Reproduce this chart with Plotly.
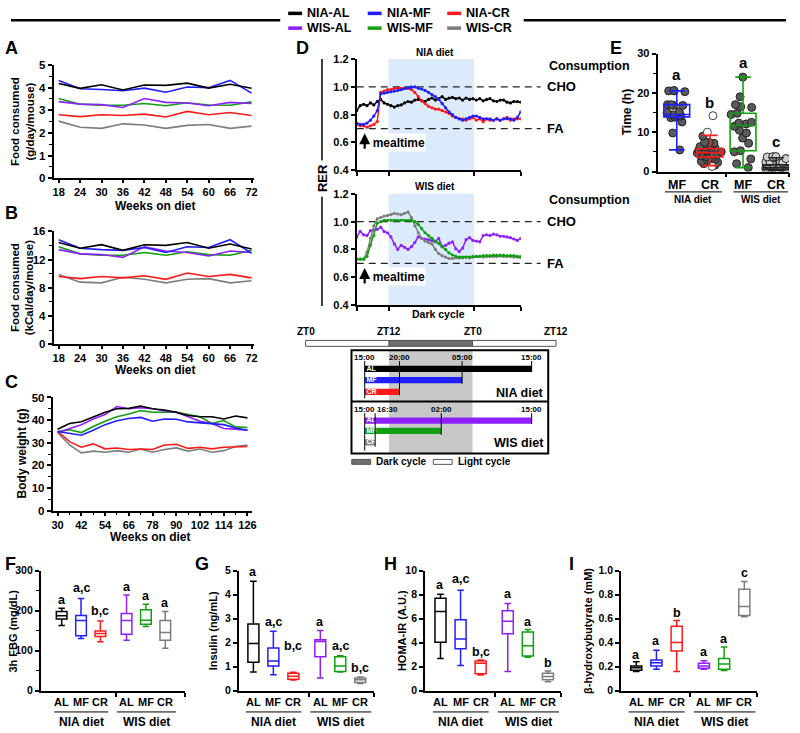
import plotly.graph_objects as go

W, H = 800, 733
FONT = "Liberation Sans"

# ---------------- colours ----------------
COL_NIA_AL = "#000000"
COL_NIA_MF = "#1f1fff"
COL_NIA_CR = "#ff1a1a"
COL_WIS_AL = "#8f1fff"
COL_WIS_MF = "#12a012"
COL_WIS_CR = "#7d7d7d"
GROUP_NAMES = ["NIA-AL", "NIA-MF", "NIA-CR", "WIS-AL", "WIS-MF", "WIS-CR"]
GROUP_COLORS = [COL_NIA_AL, COL_NIA_MF, COL_NIA_CR, COL_WIS_AL, COL_WIS_MF, COL_WIS_CR]

# ---------------- Panel A : food (g/day/mouse) ----------------
WEEKS_FOOD = [18, 24, 30, 36, 42, 48, 54, 60, 66, 72]
FOOD_G_NIA_AL = [4.18, 3.97, 4.13, 3.90, 4.12, 4.10, 4.20, 3.98, 4.15, 3.97]
FOOD_G_NIA_MF = [4.32, 3.95, 3.92, 3.86, 3.98, 3.80, 4.03, 4.00, 4.32, 3.76]
FOOD_G_NIA_CR = [2.80, 2.72, 2.80, 2.77, 2.83, 2.70, 2.95, 2.80, 2.90, 2.77]
FOOD_G_WIS_AL = [3.38, 3.27, 3.25, 3.12, 3.52, 3.35, 3.32, 3.20, 3.35, 3.30]
FOOD_G_WIS_MF = [3.52, 3.27, 3.22, 3.22, 3.30, 3.20, 3.33, 3.23, 3.22, 3.37]
FOOD_G_WIS_CR = [2.52, 2.25, 2.20, 2.40, 2.35, 2.20, 2.33, 2.37, 2.20, 2.30]

# ---------------- Panel B : food (kCal/day/mouse) ----------------
FOOD_K_NIA_AL = [14.4, 13.6, 14.1, 13.3, 14.1, 14.0, 14.4, 13.6, 14.2, 13.5]
FOOD_K_NIA_MF = [14.8, 13.6, 13.4, 13.3, 13.7, 13.0, 13.8, 13.7, 14.8, 12.9]
FOOD_K_NIA_CR = [9.6, 9.3, 9.6, 9.4, 9.7, 9.2, 10.1, 9.6, 9.9, 9.4]
FOOD_K_WIS_AL = [13.4, 12.8, 12.7, 12.3, 13.8, 13.2, 13.0, 12.5, 13.2, 13.0]
FOOD_K_WIS_MF = [13.8, 12.8, 12.6, 12.6, 13.0, 12.6, 13.1, 12.7, 12.6, 13.3]
FOOD_K_WIS_CR = [9.9, 8.8, 8.7, 9.5, 9.2, 8.7, 9.2, 9.3, 8.7, 9.0]

# ---------------- Panel C : body weight ----------------
WEEKS_BW = [30, 36, 42, 48, 54, 60, 66, 72, 78, 84, 90, 96, 102, 108, 114, 120, 126]
BW_NIA_AL = [36.0, 38.5, 39.3, 41.5, 43.5, 45.0, 45.2, 46.2, 45.0, 44.5, 43.5, 42.0, 41.5, 41.5, 40.5, 41.8, 41.0]
BW_NIA_MF = [35.0, 34.0, 33.3, 35.5, 38.0, 39.7, 40.7, 41.2, 39.5, 40.5, 40.4, 39.2, 38.8, 38.5, 38.0, 36.5, 35.5]
BW_NIA_CR = [35.0, 30.5, 28.0, 29.5, 27.3, 27.7, 27.0, 27.2, 27.0, 29.0, 29.3, 27.5, 28.0, 27.3, 28.0, 28.0, 28.3]
BW_WIS_AL = [34.5, 36.3, 38.0, 40.5, 42.5, 46.0, 45.0, 45.5, 45.0, 44.0, 43.5, 41.5, 39.5, 38.5, 36.3, 36.0, 35.5]
BW_WIS_MF = [35.0, 35.7, 34.5, 37.2, 39.5, 41.5, 42.7, 44.2, 43.5, 43.5, 43.5, 42.5, 41.5, 38.5, 39.8, 37.0, 36.7]
BW_WIS_CR = [34.5, 29.0, 25.5, 26.3, 25.8, 26.5, 25.8, 27.2, 25.8, 27.0, 27.7, 26.3, 27.2, 25.8, 26.5, 28.3, 29.0]

# ---------------- Panel D : RER (hours after 15:00 mealtime) ----------------
D_HOURS = [i * 0.5 for i in range(49)]
D_DARK = [4.65, 17.16]
D_TICKS = [0, 4.65, 17.16, 24]
RER_NIA_AL = [0.83, 0.865, 0.875, 0.865, 0.885, 0.87, 0.895, 0.91, 0.885, 0.875,
              0.865, 0.855, 0.865, 0.87, 0.885, 0.895, 0.89, 0.905, 0.91, 0.90,
              0.895, 0.91, 0.92, 0.905, 0.915, 0.93, 0.91, 0.92, 0.925, 0.915,
              0.92, 0.905, 0.92, 0.91, 0.915, 0.905, 0.915, 0.90, 0.91, 0.915,
              0.90, 0.895, 0.905, 0.905, 0.89, 0.885, 0.895, 0.895, 0.89]
RER_NIA_MF = [0.74, 0.73, 0.73, 0.74, 0.76, 0.79, 0.83, 0.95, 0.955, 0.96,
              0.965, 0.97, 0.975, 0.98, 0.99, 0.995, 1.0, 1.0, 0.99, 0.985,
              0.975, 0.96, 0.945, 0.93, 0.91, 0.88, 0.85, 0.82, 0.80, 0.78,
              0.77, 0.76, 0.77, 0.78, 0.79, 0.79, 0.78, 0.77, 0.77, 0.77,
              0.76, 0.77, 0.76, 0.77, 0.77, 0.77, 0.76, 0.78, 0.82]
RER_NIA_CR = [0.73, 0.72, 0.72, 0.71, 0.72, 0.73, 0.75, 0.96, 0.97, 0.98,
              0.98, 0.99, 0.99, 0.99, 0.99, 0.99, 0.98, 0.96, 0.93, 0.90,
              0.88, 0.86, 0.85, 0.84, 0.84, 0.83, 0.82, 0.81, 0.79, 0.78,
              0.77, 0.77, 0.76, 0.77, 0.78, 0.76, 0.77, 0.75, 0.77, 0.76,
              0.76, 0.77, 0.76, 0.77, 0.78, 0.76, 0.77, 0.77, 0.77]
RER_WIS_AL = [0.89, 0.93, 0.905, 0.90, 0.935, 0.94, 0.945, 0.96, 0.93, 0.92,
              0.89, 0.84, 0.80, 0.83, 0.815, 0.80, 0.82, 0.85, 0.89, 0.88,
              0.875, 0.87, 0.865, 0.855, 0.88, 0.82, 0.83, 0.845, 0.855, 0.805,
              0.785, 0.81, 0.87, 0.885, 0.865, 0.86, 0.855, 0.90, 0.905, 0.90,
              0.91, 0.905, 0.895, 0.895, 0.89, 0.885, 0.875, 0.865, 0.88]
RER_WIS_MF = [0.73, 0.73, 0.73, 0.75, 0.83, 0.90, 0.99, 1.0, 1.01, 1.01,
              1.01, 1.01, 1.01, 1.01, 1.01, 1.01, 1.01, 1.0, 0.98, 0.95,
              0.92, 0.90, 0.88, 0.86, 0.845, 0.82, 0.80, 0.775, 0.76, 0.75,
              0.745, 0.745, 0.745, 0.745, 0.75, 0.75, 0.75, 0.755, 0.755, 0.755,
              0.76, 0.76, 0.76, 0.76, 0.755, 0.755, 0.755, 0.75, 0.75]
RER_WIS_CR = [0.73, 0.73, 0.73, 0.78, 0.88, 0.97, 1.02, 1.03, 1.04, 1.045,
              1.05, 1.06, 1.055, 1.05, 1.06, 1.07, 1.03, 0.97, 0.92, 0.88,
              0.86, 0.85, 0.84, 0.80, 0.77, 0.755, 0.745, 0.735, 0.735, 0.74,
              0.74, 0.74, 0.745, 0.74, 0.745, 0.75, 0.75, 0.745, 0.75, 0.75,
              0.75, 0.75, 0.755, 0.75, 0.75, 0.75, 0.745, 0.745, 0.74]
RER_CHO = 1.0
RER_FA = 0.7
MEAL_T = 1.16

# ---------------- Feeding-window timeline (hours after 15:00) ----------------
ZT_HOURS = [-8.5, 3.5, 15.5, 27.5]
ZT_LABELS = ["ZT0", "ZT12", "ZT0", "ZT12"]
FEED_NIA_LABELS = ["AL", "MF", "CR"]
FEED_NIA_START = [0, 0, 0]
FEED_NIA_DUR = [24, 14, 5]
FEED_NIA_COLORS = [COL_NIA_AL, COL_NIA_MF, COL_NIA_CR]
FEED_NIA_CLOCK = ["15:00", "20:00", "05:00", "15:00"]
FEED_NIA_CLOCK_T = [0, 5, 14, 24]
FEED_WIS_LABELS = ["AL", "MF", "CR"]
FEED_WIS_START = [0, 0, 0]
FEED_WIS_DUR = [24, 11, 1.5]
FEED_WIS_COLORS = [COL_WIS_AL, COL_WIS_MF, "#8a8a8a"]
FEED_WIS_CLOCK = ["15:00", "16:30", "02:00", "15:00"]
FEED_WIS_CLOCK_T = [0, 1.5, 11, 24]

# ---------------- Panel E : time to finish food ----------------
E_POS = [1, 2, 3, 4]
E_LABELS = ["MF", "CR", "MF", "CR"]
E_COLORS = [COL_NIA_MF, COL_NIA_CR, COL_WIS_MF, "#222222"]
E_NIA_MF_PTS = [20.6, 20.5, 20.5, 20.3, 17.0, 17.0, 16.8, 16.8, 15.2, 15.0, 14.4, 14.3, 14.2, 14.1, 13.8, 13.7, 12.6, 9.8, 5.5]
E_NIA_CR_PTS = [9.0, 7.5, 7.4, 7.2, 7.0, 6.5, 6.3, 6.2, 6.0, 5.9, 5.7, 5.5, 5.4, 5.2, 5.0, 4.8, 4.7, 4.5, 4.4, 4.2,
                4.0, 3.8, 3.6, 3.4, 3.2, 3.0, 2.6, 2.3, 2.0, 1.6]
E_NIA_CR_OUT = [14.2, 10.0, 1.3]
E_WIS_MF_PTS = [24.0, 19.0, 17.0, 16.5, 16.3, 14.8, 14.5, 12.5, 12.3, 12.1, 11.5, 10.5, 9.8, 8.5, 7.2, 5.3, 5.0, 3.2, 2.0, 1.0]
E_WIS_CR_PTS = [3.8, 3.8, 3.7, 3.5, 3.3, 2.6, 2.4, 2.2, 2.0, 2.0, 1.8, 1.6, 1.4, 1.2, 1.0, 1.0, 0.8, 0.6, 0.5, 0.3]
E_LO = [5.5, 1.5, 1.0, 0.2]
E_Q1 = [13.9, 3.7, 5.3, 0.5]
E_MED = [14.5, 4.8, 11.7, 1.0]
E_Q3 = [17.0, 5.8, 14.8, 1.7]
E_HI = [20.5, 9.2, 24.0, 3.5]
E_LETTERS = ["a", "b", "a", "c"]
E_LETTER_Y = [24.6, 17.6, 27.6, 7.6]

# ---------------- Panels F-I : box plots ----------------
BOX_POS = [1, 2, 3, 4.35, 5.35, 6.35]
BOX_LABELS = ["AL", "MF", "CR", "AL", "MF", "CR"]
BOX_COLORS = [COL_NIA_AL, COL_NIA_MF, COL_NIA_CR, COL_WIS_AL, COL_WIS_MF, COL_WIS_CR]

FBG_LO = [163, 130, 122, 126, 160, 106]
FBG_Q1 = [179, 137, 135, 141, 166, 126]
FBG_MED = [187, 175, 143, 175, 176, 145]
FBG_Q3 = [198, 188, 149, 193, 202, 175]
FBG_HI = [206, 230, 174, 239, 216, 198]
FBG_LET = ["a", "a,c", "b,c", "a", "a", "a"]
FBG_LET_Y = [227, 256, 200, 260, 237, 219]

INS_LO = [0.77, 0.66, 0.44, 0.52, 0.77, 0.30]
INS_Q1 = [1.18, 1.03, 0.47, 1.41, 0.80, 0.34]
INS_MED = [1.96, 1.23, 0.60, 2.05, 1.03, 0.45]
INS_Q3 = [2.78, 1.78, 0.72, 2.12, 1.41, 0.52]
INS_HI = [4.56, 2.47, 0.76, 2.50, 1.45, 0.57]
INS_LET = ["a", "a,c", "b,c", "a", "a,c", "b,c"]
INS_LET_Y = [4.95, 2.87, 1.86, 2.87, 1.86, 0.94]

HOMA_LO = [2.68, 2.10, 1.30, 1.59, 2.77, 0.74]
HOMA_Q1 = [4.03, 3.48, 1.40, 4.74, 2.88, 0.90]
HOMA_MED = [6.60, 4.30, 2.27, 5.78, 3.73, 1.18]
HOMA_Q3 = [7.70, 5.90, 2.47, 6.66, 4.88, 1.45]
HOMA_HI = [8.03, 8.36, 2.55, 7.26, 5.10, 1.64]
HOMA_LET = ["a", "a,c", "b,c", "a", "a", "b"]
HOMA_LET_Y = [8.8, 9.26, 3.23, 8.03, 5.7, 2.33]

BHB_LO = [0.160, 0.178, 0.159, 0.178, 0.167, 0.616]
BHB_Q1 = [0.170, 0.205, 0.329, 0.186, 0.178, 0.625]
BHB_MED = [0.190, 0.233, 0.400, 0.205, 0.222, 0.700]
BHB_Q3 = [0.205, 0.255, 0.537, 0.227, 0.268, 0.844]
BHB_HI = [0.240, 0.337, 0.584, 0.249, 0.364, 0.910]
BHB_LET = ["a", "a", "b", "a", "a", "c"]
BHB_LET_Y = [0.296, 0.41, 0.65, 0.323, 0.433, 0.98]


# ======================= helpers =======================
def PX(x):
    return x / W


def PY(y):
    return 1 - y / H


def fnt(size, color="black"):
    return dict(family=FONT, size=size, color=color, weight="bold")


fig = go.Figure()
LAY = {}
ANN = []
SHP = []


def sfx(n):
    return "" if n == 1 else str(n)


def make_axes(n, xpx, ypx, xkw, ykw, tfs=11.5):
    base = dict(showline=True, linecolor="black", linewidth=1.8, ticks="outside", ticklen=4,
                tickwidth=1.6, tickcolor="black", showgrid=False, zeroline=False,
                tickfont=fnt(tfs), fixedrange=True)
    xa = dict(base, domain=[PX(xpx[0]), PX(xpx[1])], anchor="y" + sfx(n))
    xa.update(xkw)
    ya = dict(base, domain=[PY(ypx[1]), PY(ypx[0])], anchor="x" + sfx(n))
    ya.update(ykw)
    LAY["xaxis" + sfx(n)] = xa
    LAY["yaxis" + sfx(n)] = ya


def txt(x, y, text, size, xref="paper", yref="paper", **kw):
    d = dict(x=x, y=y, text=text, xref=xref, yref=yref, showarrow=False, font=fnt(size),
             xanchor="center", yanchor="middle")
    d.update(kw)
    ANN.append(d)


# ======================= legend at top =======================
SHP.append(dict(type="line", xref="paper", yref="paper", x0=PX(10), x1=PX(281), y0=PY(14.5), y1=PY(14.5),
                line=dict(color="black", width=2.5)))
SHP.append(dict(type="line", xref="paper", yref="paper", x0=PX(526), x1=PX(790), y0=PY(14.5), y1=PY(14.5),
                line=dict(color="black", width=2.5)))
LEG_X = [289, 369, 449, 289, 369, 449]
LEG_Y = [7.5, 7.5, 7.5, 22.5, 22.5, 22.5]
for name, col, lx, ly in zip(GROUP_NAMES, GROUP_COLORS, LEG_X, LEG_Y):
    SHP.append(dict(type="line", xref="paper", yref="paper", x0=PX(lx), x1=PX(lx + 14), y0=PY(ly), y1=PY(ly),
                    line=dict(color=col, width=3.5)))
    txt(PX(lx + 17), PY(ly), name, 12.5, xanchor="left")

# ======================= panels A, B, C =======================
series_A = [FOOD_G_NIA_AL, FOOD_G_NIA_MF, FOOD_G_NIA_CR, FOOD_G_WIS_AL, FOOD_G_WIS_MF, FOOD_G_WIS_CR]
series_B = [FOOD_K_NIA_AL, FOOD_K_NIA_MF, FOOD_K_NIA_CR, FOOD_K_WIS_AL, FOOD_K_WIS_MF, FOOD_K_WIS_CR]
series_C = [BW_NIA_AL, BW_NIA_MF, BW_NIA_CR, BW_WIS_AL, BW_WIS_MF, BW_WIS_CR]
DRAW_ORDER = [5, 2, 4, 3, 1, 0]

for n, xs, ser in [(1, WEEKS_FOOD, series_A), (2, WEEKS_FOOD, series_B), (3, WEEKS_BW, series_C)]:
    for i in DRAW_ORDER:
        fig.add_trace(go.Scatter(x=xs, y=ser[i], mode="lines", line=dict(color=GROUP_COLORS[i], width=1.6),
                                 xaxis="x" + sfx(n), yaxis="y" + sfx(n), hoverinfo="skip"))

MINOR = dict(ticks="outside", ticklen=2.5, tickwidth=1.2, tickcolor="black")
XTF = fnt(11)
make_axes(1, (53, 255), (60, 175),
          dict(range=[16.6, 72.8], tickvals=WEEKS_FOOD, ticklen=3, tickfont=XTF),
          dict(range=[0, 5], dtick=1, minor=dict(MINOR, dtick=0.5)))
make_axes(2, (53, 255), (229, 344),
          dict(range=[16.6, 72.8], tickvals=WEEKS_FOOD, ticklen=3, tickfont=XTF),
          dict(range=[0, 16], dtick=4, minor=dict(MINOR, dtick=2)))
make_axes(3, (52, 253), (398, 513),
          dict(range=[27.5, 128.5], tick0=30, dtick=12, ticklen=3, tickfont=XTF,
               minor=dict(MINOR, tick0=30, dtick=6)),
          dict(range=[0, 50], dtick=10, minor=dict(MINOR, dtick=5)))

txt(PX(21), PY(117), "Food consumed<br>(g/day/mouse)", 11.5, textangle=-90)
txt(PX(21), PY(286), "Food consumed<br>(kCal/day/mouse)", 11.5, textangle=-90)
txt(PX(21), PY(455), "Body weight (g)", 12, textangle=-90)
txt(PX(155), PY(203), "Weeks on diet", 12)
txt(PX(155), PY(370), "Weeks on diet", 12)
txt(PX(150), PY(539.5), "Weeks on diet", 12)

# ======================= panel D =======================
D_UP = [(RER_NIA_AL, COL_NIA_AL), (RER_NIA_CR, COL_NIA_CR), (RER_NIA_MF, COL_NIA_MF)]
D_LO = [(RER_WIS_AL, COL_WIS_AL), (RER_WIS_CR, COL_WIS_CR), (RER_WIS_MF, COL_WIS_MF)]
for n, group in [(4, D_UP), (5, D_LO)]:
    for ys, col in group:
        fig.add_trace(go.Scatter(x=D_HOURS, y=ys, mode="lines+markers", line=dict(color=col, width=1.5),
                                 marker=dict(size=3.2, color=col), xaxis="x" + sfx(n), yaxis="y" + sfx(n),
                                 hoverinfo="skip"))
D_YT = [0.4, 0.6, 0.8, 1.0, 1.2]
for n, ypx in [(4, (54, 167)), (5, (191, 304))]:
    make_axes(n, (358, 523), ypx,
              dict(range=[0, 24], tickvals=D_TICKS, showticklabels=False),
              dict(range=[0.4, 1.2], tickvals=D_YT, ticktext=["%.1f" % v for v in D_YT]), tfs=11)
    SHP.append(dict(type="rect", xref="x" + sfx(n), yref="y" + sfx(n) + " domain", x0=D_DARK[0], x1=D_DARK[1],
                    y0=0, y1=1, fillcolor="#dcebfb", line=dict(width=0), layer="below"))
    for lvl, lab in [(RER_CHO, "CHO"), (RER_FA, "FA")]:
        SHP.append(dict(type="line", xref="paper", yref="y" + sfx(n), x0=PX(358), x1=PX(543), y0=lvl, y1=lvl,
                        line=dict(color="#222222", width=1.4, dash="7px,5px"), layer="below"))
        txt(PX(547), lvl, lab, 13, yref="y" + sfx(n), xanchor="left")
    ANN.append(dict(x=0.58, y=0.603, xref="x" + sfx(n), yref="y" + sfx(n), text="mealtime", showarrow=False,
                    font=fnt(12), xanchor="left", yanchor="middle", width=63, height=17, align="right",
                    bgcolor="white", borderpad=0))
    ANN.append(dict(x=MEAL_T, y=0.667, xref="x" + sfx(n), yref="y" + sfx(n), text="", showarrow=True,
                    ax=0, ay=17, arrowhead=2, arrowsize=1, arrowwidth=2.2, arrowcolor="black"))

txt(PX(592), PY(61), "Consumption", 12.5)
txt(PX(592), PY(197), "Consumption", 12.5)
txt(PX(437), PY(47), "NIA diet", 10)
txt(PX(437), PY(184), "WIS diet", 10)
txt(PX(440), PY(313), "Dark cycle", 10.5)
txt(PX(323), PY(175), "RER", 13, textangle=-90)
SHP.append(dict(type="line", xref="paper", yref="paper", x0=PX(323), x1=PX(323), y0=PY(54), y1=PY(157),
                line=dict(color="black", width=1.5)))
SHP.append(dict(type="line", xref="paper", yref="paper", x0=PX(323), x1=PX(323), y0=PY(194), y1=PY(305),
                line=dict(color="black", width=1.5)))

# ======================= timeline =======================
TLX = "x7"
TLY = "y7"
LAY["xaxis7"] = dict(domain=[PX(300), PX(572)], range=[(300 - 366) / 7.0, (572 - 366) / 7.0], visible=False,
                     anchor="y7", fixedrange=True)
LAY["yaxis7"] = dict(domain=[PY(470), PY(326)], range=[470, 326], visible=False, anchor="x7", fixedrange=True)

for z, lab in zip(ZT_HOURS, ZT_LABELS):
    txt(z, 331, lab, 10, xref=TLX, yref=TLY)
for a, b, fc in [(ZT_HOURS[0], ZT_HOURS[1], "white"), (ZT_HOURS[1], ZT_HOURS[2], "#6e6e6e"),
                 (ZT_HOURS[2], ZT_HOURS[3], "white")]:
    SHP.append(dict(type="rect", xref=TLX, yref=TLY, x0=a, x1=b, y0=340, y1=346, fillcolor=fc,
                    line=dict(color="#555555", width=1)))
SHP.append(dict(type="rect", xref=TLX, yref=TLY, x0=ZT_HOURS[1], x1=ZT_HOURS[2], y0=350, y1=455,
                fillcolor="#c8c8c8", line=dict(width=0), layer="below"))
SHP.append(dict(type="rect", xref=TLX, yref=TLY, x0=-1.9, x1=26.38, y0=350, y1=455,
                line=dict(color="black", width=2)))
SHP.append(dict(type="line", xref=TLX, yref=TLY, x0=-1.9, x1=26.38, y0=402, y1=402,
                line=dict(color="black", width=2)))

NIA_ROWS = [369, 380.3, 392.2]
WIS_ROWS = [421.5, 432, 443.7]
for starts, durs, cols, rows, labs in [(FEED_NIA_START, FEED_NIA_DUR, FEED_NIA_COLORS, NIA_ROWS, FEED_NIA_LABELS),
                                       (FEED_WIS_START, FEED_WIS_DUR, FEED_WIS_COLORS, WIS_ROWS, FEED_WIS_LABELS)]:
    fig.add_trace(go.Bar(orientation="h", base=starts, x=durs, y=rows, width=6.4,
                         marker=dict(color=cols, line=dict(width=0)),
                         xaxis=TLX, yaxis=TLY, hoverinfo="skip"))
    fig.add_trace(go.Scatter(x=[0.25] * 3, y=rows, mode="text", text=labs, textposition="middle right",
                             textfont=fnt(7, "white"), xaxis=TLX, yaxis=TLY, cliponaxis=False, hoverinfo="skip"))

for clock_t, clock_lab, y_lab, ends in [(FEED_NIA_CLOCK_T, FEED_NIA_CLOCK, 357, [399, 396, 384, 372]),
                                        (FEED_WIS_CLOCK_T, FEED_WIS_CLOCK, 410, [452, 448, 436, 425])]:
    lx, ly = [], []
    for t, e in zip(clock_t, ends):
        lx += [t, t, None]
        ly += [y_lab + 4, e, None]
    fig.add_trace(go.Scatter(x=lx, y=ly, mode="lines", line=dict(color="black", width=1), xaxis=TLX, yaxis=TLY,
                             hoverinfo="skip"))
    for t, lab in zip(clock_t, clock_lab):
        txt(t, y_lab, lab, 8, xref=TLX, yref=TLY, xanchor=("left" if lab == "16:30" else "center"))

txt(26.0, 393, "NIA diet", 12.5, xref=TLX, yref=TLY, xanchor="right")
txt(26.0, 444, "WIS diet", 12.5, xref=TLX, yref=TLY, xanchor="right")
SHP.append(dict(type="rect", xref=TLX, yref=TLY, x0=-1.86, x1=0.86, y0=461, y1=466, fillcolor="#6e6e6e",
                line=dict(color="#555555", width=1)))
txt(1.4, 463.5, "Dark cycle", 10, xref=TLX, yref=TLY, xanchor="left")
SHP.append(dict(type="rect", xref=TLX, yref=TLY, x0=9.86, x1=12.57, y0=461, y1=466, fillcolor="white",
                line=dict(color="#555555", width=1)))
txt(13.1, 463.5, "Light cycle", 10, xref=TLX, yref=TLY, xanchor="left")

# ======================= panel E =======================
E_PTS = [E_NIA_MF_PTS, E_NIA_CR_PTS, E_WIS_MF_PTS, E_WIS_CR_PTS]
E_FILL = ["#5a5a5a", "#5a5a5a", "#5a5a5a", "#cfcfcf"]
for pos, pts, fc in zip(E_POS, E_PTS, E_FILL):
    fig.add_trace(go.Box(y=pts, x=[pos] * len(pts), boxpoints="all", jitter=1.0, pointpos=0, width=0.8,
                         line=dict(width=0, color="rgba(0,0,0,0)"), fillcolor="rgba(0,0,0,0)",
                         marker=dict(size=8, color=fc, line=dict(color="#222222", width=1)),
                         xaxis="x6", yaxis="y6", hoverinfo="skip"))
fig.add_trace(go.Box(y=E_NIA_CR_OUT, x=[E_POS[1]] * len(E_NIA_CR_OUT), boxpoints="all", jitter=0.3, pointpos=0,
                     width=0.8, line=dict(width=0, color="rgba(0,0,0,0)"), fillcolor="rgba(0,0,0,0)",
                     marker=dict(size=8, color="white", line=dict(color="#444444", width=1)),
                     xaxis="x6", yaxis="y6", hoverinfo="skip"))
for i in range(4):
    fig.add_trace(go.Box(x=[E_POS[i]], q1=[E_Q1[i]], median=[E_MED[i]], q3=[E_Q3[i]], lowerfence=[E_LO[i]],
                         upperfence=[E_HI[i]], orientation="v", width=0.78, whiskerwidth=0.6,
                         line=dict(color=E_COLORS[i], width=1.6), fillcolor="rgba(0,0,0,0)", boxpoints=False,
                         xaxis="x6", yaxis="y6", hoverinfo="skip"))
make_axes(6, (660.7, 793), (48.3, 168.3),
          dict(range=[0.42, 4.39], tickvals=[2.5, 4.39], showticklabels=False),
          dict(range=[0, 30], dtick=10, minor=dict(MINOR, dtick=5)), tfs=11)
for pos, lab, let, ly in zip(E_POS, E_LABELS, E_LETTERS, E_LETTER_Y):
    txt(pos, PY(181.7), lab, 12.5, xref="x6")
    txt(pos, ly, let, 15, xref="x6", yref="y6")
for a, b, lab in [(0.64, 2.36, "NIA diet"), (2.71, 4.36, "WIS diet")]:
    SHP.append(dict(type="line", xref="x6", yref="paper", x0=a, x1=b, y0=PY(189), y1=PY(189),
                    line=dict(color="black", width=1)))
    txt((a + b) / 2, PY(197), lab, 10, xref="x6")
txt(PX(630), PY(108), "Time (h)", 12, textangle=-90)

# ======================= panels F - I =======================
BOX_PANELS = [
    (8, (40, 185), [-0.08, 7.36], 3.8, [0, 300], dict(tickvals=[0, 100, 200, 300], minor=dict(MINOR, dtick=50)),
     FBG_LO, FBG_Q1, FBG_MED, FBG_Q3, FBG_HI, FBG_LET, FBG_LET_Y, "3h FBG (mg/dL)", 12, "F", 2),
    (9, (239.3, 375), [0.27, 7.02], 3.79, [0, 5], dict(tickvals=[0, 1, 2, 3, 4, 5]),
     INS_LO, INS_Q1, INS_MED, INS_Q3, INS_HI, INS_LET, INS_LET_Y, "Insulin (ng/mL)", 213, "G", 193),
    (10, (426.7, 563.3), [0.23, 6.99], 3.71, [0, 10], dict(tickvals=[0, 2, 4, 6, 8, 10]),
     HOMA_LO, HOMA_Q1, HOMA_MED, HOMA_Q3, HOMA_HI, HOMA_LET, HOMA_LET_Y, "HOMA-IR (A.U.)", 403, "H", 383),
    (11, (624, 761), [0.25, 6.99], 3.64, [0, 1.0], dict(tickvals=[0, 0.2, 0.4, 0.6, 0.8, 1.0],
                                                        ticktext=["0", "0.2", "0.4", "0.6", "0.8", "1.0"]),
     BHB_LO, BHB_Q1, BHB_MED, BHB_Q3, BHB_HI, BHB_LET, BHB_LET_Y, "β-hydroxybutyrate (mM)", 590, "I", 570),
]
for (n, xpx, xr, mid, yr, ykw, lo, q1, med, q3, hi, lets, lety, ytitle, ytx, letter, letx) in BOX_PANELS:
    for i in range(6):
        fig.add_trace(go.Box(x=[BOX_POS[i]], q1=[q1[i]], median=[med[i]], q3=[q3[i]], lowerfence=[lo[i]],
                             upperfence=[hi[i]], orientation="v", width=0.55, whiskerwidth=0.6,
                             line=dict(color=BOX_COLORS[i], width=1.5), fillcolor="rgba(0,0,0,0)",
                             boxpoints=False, xaxis="x" + sfx(n), yaxis="y" + sfx(n), hoverinfo="skip"))
        txt(BOX_POS[i], lety[i], lets[i], 12.5, xref="x" + sfx(n), yref="y" + sfx(n))
        txt(BOX_POS[i], PY(708), BOX_LABELS[i], 11, xref="x" + sfx(n))
    yk = dict(range=yr)
    yk.update(ykw)
    make_axes(n, xpx, (574, 696),
              dict(range=xr, tickvals=[mid, xr[1]], showticklabels=False), yk, tfs=10.5)
    for a, b, lab in [(0.62, 3.4, "NIA diet"), (3.85, 6.9, "WIS diet")]:
        SHP.append(dict(type="line", xref="x" + sfx(n), yref="paper", x0=a, x1=b, y0=PY(717.7), y1=PY(717.7),
                        line=dict(color="black", width=1)))
        txt((a + b) / 2, PY(727.5), lab, 12, xref="x" + sfx(n))
    txt(PX(ytx), PY(635), ytitle, 11, textangle=-90)
    txt(PX(letx), PY(567), letter, 18, xanchor="left")

for lab, x, y in [("A", 2, 43), ("B", 2, 210), ("C", 2, 382), ("D", 295, 43), ("E", 611, 43)]:
    txt(PX(x), PY(y), lab, 18, xanchor="left")

LAY.update(dict(width=W, height=H, margin=dict(l=0, r=0, t=0, b=0), paper_bgcolor="white",
                plot_bgcolor="rgba(0,0,0,0)", showlegend=False, boxmode="overlay", barmode="overlay",
                font=dict(family=FONT, color="black"), annotations=ANN, shapes=SHP))
fig.update_layout(**LAY)
fig.write_html("out.html")
